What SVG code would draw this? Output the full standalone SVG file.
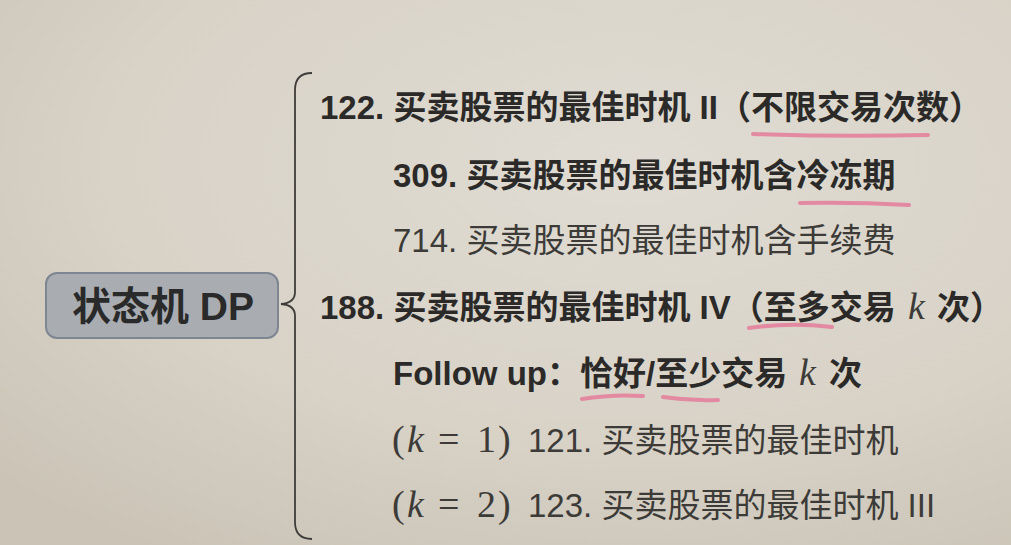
<svg xmlns="http://www.w3.org/2000/svg" width="1011" height="545" viewBox="0 0 1011 545">
<defs>
<radialGradient id="bg" cx="0.62" cy="0.3" r="0.85">
<stop offset="0" stop-color="#e0dcd3"/>
<stop offset="0.6" stop-color="#d8d2c7"/>
<stop offset="1" stop-color="#cac3b6"/>
</radialGradient>
<style>
.t{font-family:"Liberation Sans","Noto Sans CJK SC",sans-serif;font-size:33px;fill:#2b2a28}
.b{font-weight:bold}
.n{fill:#3c3b38}
.m{font-family:"Liberation Serif","DejaVu Serif",serif;font-size:38px;fill:#3c3b38}
.mi{font-style:italic}
.ul{fill:none;stroke:#e3819c;stroke-width:4;stroke-linecap:round;opacity:0.9}
.br{fill:none;stroke:#3f3d3a;stroke-width:1.8}
</style>
</defs>
<rect width="1011" height="545" fill="url(#bg)"/>
<g id="connectors">
<path class="br" d="M312,73 Q295,73 295,90 L295,292 Q295,303 281,304 Q295,305 295,316 L295,522 Q295,539 312,539"/>
</g>
<g id="root">
<rect x="46" y="273" width="232" height="65" rx="11" fill="#a9adb2" stroke="#7e8692" stroke-width="2"/>
<text x="163" y="320" text-anchor="middle" style="font-family:'Liberation Sans','Noto Sans CJK SC',sans-serif;font-size:39px;font-weight:bold;fill:#2a2a2a">状态机 DP</text>
</g>
<g id="n122">
<text class="t b" x="320" y="119">122. 买卖股票的最佳时机 II（不限交易次数）</text>
<path class="ul" d="M753,134 Q840,137 928,135"/>
</g>
<g id="n309">
<text class="t b" x="393" y="187">309. 买卖股票的最佳时机含冷冻期</text>
<path class="ul" d="M800,203 Q855,202 909,205"/>
</g>
<g id="n714">
<text class="t n" x="393" y="252">714. 买卖股票的最佳时机含手续费</text>
</g>
<g id="n188">
<text class="t b" x="320" y="319">188. 买卖股票的最佳时机 IV（至多交易</text>
<text class="m mi" x="908" y="319">k</text>
<text class="t b" x="937" y="319">次）</text>
<path class="ul" d="M749,328 Q790,322 832,327"/>
</g>
<g id="nfollow">
<text class="t b" x="393" y="385">Follow up：恰好/至少交易</text>
<text class="m mi" x="799" y="385">k</text>
<text class="t b" x="829" y="385">次</text>
<path class="ul" d="M582,399 Q612,394 643,396"/>
<path class="ul" d="M663,397 Q690,401 718,400"/>
</g>
<g id="n121">
<text class="m" y="452"><tspan x="392">(</tspan><tspan x="407" class="mi">k</tspan><tspan x="438">=</tspan><tspan x="477">1</tspan><tspan x="498">)</tspan></text>
<text class="t n" x="528" y="452">121. 买卖股票的最佳时机</text>
</g>
<g id="n123">
<text class="m" y="517"><tspan x="392">(</tspan><tspan x="407" class="mi">k</tspan><tspan x="438">=</tspan><tspan x="477">2</tspan><tspan x="498">)</tspan></text>
<text class="t n" x="528" y="517">123. 买卖股票的最佳时机 III</text>
</g>
</svg>
